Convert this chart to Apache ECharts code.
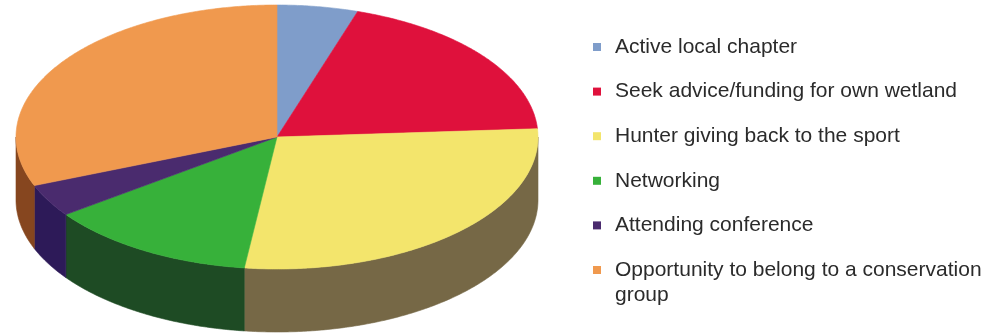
<!DOCTYPE html>
<html>
<head>
<meta charset="utf-8">
<script src="https://cdn.jsdelivr.net/npm/echarts@6/dist/echarts.min.js"></script>
<style>
  html, body { margin: 0; padding: 0; background: #ffffff; }
  #chart { width: 992px; height: 336px; }
</style>
</head>
<body>
<div id="chart"></div>
<script>
// Reasons for joining, share of respondents (%)
const categories = [
  'Active local chapter',
  'Seek advice/funding for own wetland',
  'Hunter giving back to the sport',
  'Networking',
  'Attending conference',
  'Opportunity to belong to a conservation\ngroup'
];
const shares = [5, 19, 28, 13, 4, 31];

// Slice colours: top face and the darker outer wall
const topColors  = ['#7f9dca', '#df113c', '#f3e56c', '#37b13a', '#4a2b6e', '#f0994e'];
const sideColors = ['#4f6285', '#7e1026', '#766846', '#1e4b24', '#2d1a58', '#86461f'];

const total = shares.reduce((a, b) => a + b, 0);
const startOf = shares.map((_, i) => shares.slice(0, i).reduce((a, b) => a + b, 0));

// Tilted-disc geometry
const PIE = { cx: 277, cy: 137, rx: 261, ry: 132, depth: 63 };
// Key layout
const KEY = { x: 593, y0: 47, step: 44.6, box: 8, textX: 615, font: 21, lineHeight: 25 };

function pt(theta, dy) {
  // theta measured clockwise from 12 o'clock
  return [PIE.cx + PIE.rx * Math.sin(theta), PIE.cy - PIE.ry * Math.cos(theta) + (dy || 0)];
}

function arcPoints(a0, a1, dy) {
  const pts = [];
  const n = Math.max(2, Math.ceil(Math.abs(a1 - a0) / (Math.PI / 360)));
  for (let k = 0; k <= n; k++) pts.push(pt(a0 + (a1 - a0) * k / n, dy));
  return pts;
}

function renderSlice(params, api) {
  const i = params.seriesIndex;
  const value = api.value(0);
  const a0 = startOf[i] / total * Math.PI * 2;
  const a1 = (startOf[i] + value) / total * Math.PI * 2;
  const children = [];

  // Outer wall: only the front half of the rim (90..270 degrees) faces the viewer
  const f0 = Math.max(a0, Math.PI / 2);
  const f1 = Math.min(a1, Math.PI * 1.5);
  if (f1 > f0) {
    const upper = arcPoints(f0, f1, 0);
    const lower = arcPoints(f1, f0, PIE.depth);
    children.push({
      type: 'polygon',
      shape: { points: upper.concat(lower) },
      style: { fill: sideColors[i], stroke: sideColors[i], lineWidth: 0.6 }
    });
  }

  // Top face
  const top = [[PIE.cx, PIE.cy]].concat(arcPoints(a0, a1, 0));
  children.push({
    type: 'polygon',
    shape: { points: top },
    style: { fill: topColors[i], stroke: topColors[i], lineWidth: 0.6 }
  });

  return { type: 'group', children };
}

const series = categories.map((name, i) => ({
  type: 'custom',
  name,
  coordinateSystem: 'none',
  silent: true,
  animation: false,
  itemStyle: { color: topColors[i] },
  data: [[shares[i]]],
  renderItem: renderSlice
}));

// Key: a small swatch and a label per category, first text line centred on the swatch
const keyElements = [];
categories.forEach((name, i) => {
  const cy = KEY.y0 + KEY.step * i;
  keyElements.push({
    type: 'rect',
    silent: true,
    shape: { x: KEY.x, y: cy - KEY.box / 2, width: KEY.box, height: KEY.box },
    style: { fill: topColors[i] }
  });
  keyElements.push({
    type: 'text',
    silent: true,
    x: KEY.textX,
    y: cy - KEY.lineHeight / 2,
    style: {
      text: name,
      fontFamily: '"Liberation Sans", Arial, sans-serif',
      fontSize: KEY.font,
      lineHeight: KEY.lineHeight,
      fill: '#2b2b2b',
      align: 'left',
      verticalAlign: 'top'
    }
  });
});

const chart = echarts.init(document.getElementById('chart'), null, { renderer: 'canvas' });
chart.setOption({
  backgroundColor: '#ffffff',
  animation: false,
  graphic: { elements: keyElements },
  series
});
</script>
</body>
</html>
